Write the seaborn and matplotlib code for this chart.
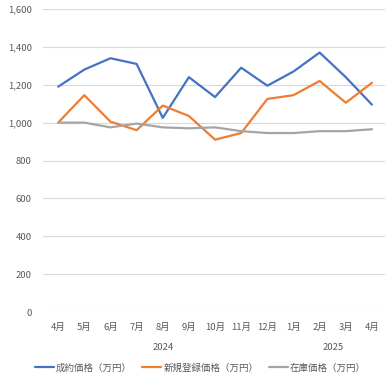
import numpy as np
import pandas as pd
from matplotlib import pyplot as plt
import seaborn as sns

months = ['4月', '5月', '6月', '7月', '8月', '9月', '10月', '11月', '12月', '1月', '2月', '3月', '4月']
years = ['2024'] * 9 + ['2025'] * 4
contract = [1190, 1280, 1340, 1310, 1025, 1240, 1135, 1290, 1195, 1270, 1370, 1240, 1095]
new_listing = [1000, 1145, 1005, 960, 1090, 1035, 910, 945, 1125, 1145, 1220, 1105, 1210]
stock = [1000, 1000, 975, 995, 975, 970, 975, 955, 945, 945, 955, 955, 965]
series = ['成約価格（万円）', '新規登録価格（万円）', '在庫価格（万円）']
colors = ['#4472C4', '#ED7D31', '#A5A5A5']

rows = []
for name, vals in zip(series, [contract, new_listing, stock]):
    for i, v in enumerate(vals):
        rows.append({'idx': i, 'value': v, 'series': name})
df = pd.DataFrame(rows)

sns.set_style('white')
plt.rcParams['font.family'] = ['Noto Sans CJK JP', 'DejaVu Sans']

fig = plt.figure(figsize=(3.89, 3.84), dpi=100)
ax = fig.add_axes([43 / 389, 1 - 312 / 384, (385 - 43) / 389, (312 - 9) / 384])

sns.lineplot(data=df, x='idx', y='value', hue='series', palette=colors,
             linewidth=1.6, ax=ax, legend=False)

ax.set_ylim(0, 1600)
ax.set_xlim(-0.58, 12.5)
ax.set_yticks(np.arange(0, 1601, 200))
ax.set_yticklabels([f'{v:,}' for v in range(0, 1601, 200)])
ax.set_xticks(range(len(months)))
ax.set_xticklabels(months)
ax.tick_params(axis='both', length=0, labelsize=6.8, colors='#595959')
ax.tick_params(axis='x', pad=8)
ax.tick_params(axis='y', pad=8)
ax.grid(axis='y', color='#D9D9D9', linewidth=0.8)
ax.set_axisbelow(True)
for s in ax.spines.values():
    s.set_visible(False)
ax.set_xlabel('')
ax.set_ylabel('')

# year labels under month groups
for yr in ['2024', '2025']:
    pos = [i for i, y in enumerate(years) if y == yr]
    ax.text(np.mean(pos), -0.118, yr, transform=ax.get_xaxis_transform(),
            ha='center', va='center', fontsize=6.8, color='#595959')

handles = [plt.Line2D([], [], color=c, linewidth=1.6) for c in colors]
fig.legend(handles, series, loc='center', bbox_to_anchor=(0.515, 1 - 368 / 384),
           ncol=3, frameon=False, fontsize=6.8, handlelength=2.0, handletextpad=0.2,
           columnspacing=1.1, labelcolor='#595959')

fig.savefig('out.png', dpi=100)
